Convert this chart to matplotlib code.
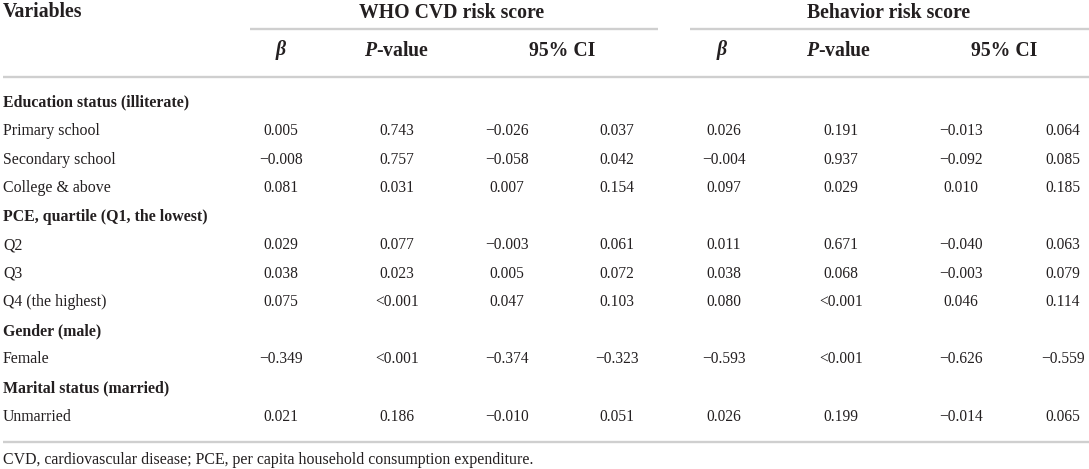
import matplotlib
matplotlib.use("Agg")
import matplotlib.pyplot as plt

plt.rcParams['mathtext.fontset'] = 'custom'
plt.rcParams['mathtext.it'] = 'Liberation Serif:italic:bold'
plt.rcParams['mathtext.rm'] = 'Liberation Serif:bold'
plt.rcParams['mathtext.bf'] = 'Liberation Serif:bold'

# ---------------- data ----------------
group_titles = ["WHO CVD risk score", "Behavior risk score"]
sub_headers = [r"$β$", r"$P$-value", "95% CI"]
variables = ["Education status (illiterate)", "Primary school", "Secondary school",
             "College & above", "PCE, quartile (Q1, the lowest)", "Q2", "Q3",
             "Q4 (the highest)", "Gender (male)", "Female", "Marital status (married)",
             "Unmarried"]
is_group = [True, False, False, False, True, False, False, False, True, False, True, False]

who_beta = [None, 0.005, -0.008, 0.081, None, 0.029, 0.038, 0.075, None, -0.349, None, 0.021]
who_p = [None, "0.743", "0.757", "0.031", None, "0.077", "0.023", "<0.001", None, "<0.001", None, "0.186"]
who_lo = [None, -0.026, -0.058, 0.007, None, -0.003, 0.005, 0.047, None, -0.374, None, -0.010]
who_hi = [None, 0.037, 0.042, 0.154, None, 0.061, 0.072, 0.103, None, -0.323, None, 0.051]

beh_beta = [None, 0.026, -0.004, 0.097, None, 0.011, 0.038, 0.080, None, -0.593, None, 0.026]
beh_p = [None, "0.191", "0.937", "0.029", None, "0.671", "0.068", "<0.001", None, "<0.001", None, "0.199"]
beh_lo = [None, -0.013, -0.092, 0.010, None, -0.040, -0.003, 0.046, None, -0.626, None, -0.014]
beh_hi = [None, 0.064, 0.085, 0.185, None, 0.063, 0.079, 0.114, None, -0.559, None, 0.065]

footnote = "CVD, cardiovascular disease; PCE, per capita household consumption expenditure."

# ---------------- layout ----------------
W, H = 1089, 469
fig = plt.figure(figsize=(W / 100, H / 100), dpi=100)
ax = fig.add_axes([0, 0, 1, 1])
ax.set_xlim(0, W)
ax.set_ylim(H, 0)
ax.axis("off")

FONT = "Liberation Serif"
TXT = "#231f20"
LINE = "#cfcfcf"
body_size = 11.4
head_size = 14.2

def fmt(v):
    if v is None:
        return ""
    if isinstance(v, str):
        return v
    return f"{v:.3f}".replace("-", "\u2212")

# header row 1
ax.text(3, 17, "Variables", fontsize=head_size, fontweight="bold", family=FONT,
        color=TXT, va="baseline", ha="left")
group_centers = [452, 889]
group_lines = [(250, 658), (690, 1089)]
for title, cx, (x0, x1) in zip(group_titles, group_centers, group_lines):
    ax.text(cx, 17.5, title, fontsize=head_size, fontweight="bold", family=FONT,
            color=TXT, va="baseline", ha="center")
    ax.plot([x0, x1], [29.5, 29.5], color=LINE, lw=1.7, solid_capstyle="butt")

# header row 2
sub_x = [[281, 397, 562], [722, 839, 1004]]
for xs in sub_x:
    for lab, x in zip(sub_headers, xs):
        ax.text(x, 55.5, lab, fontsize=head_size, fontweight="bold", family=FONT,
                color=TXT, va="baseline", ha="center")

ax.plot([3, W], [77, 77], color=LINE, lw=1.7, solid_capstyle="butt")

# body rows
col_x = [281, 397, 507, 617, 724, 841, 961, 1063]
cols = [who_beta, who_p, who_lo, who_hi, beh_beta, beh_p, beh_lo, beh_hi]
for i, name in enumerate(variables):
    yc = 101 + 28.55 * i
    yb = yc + 5.5
    ax.text(3, yb, name, fontsize=body_size, family=FONT, color=TXT,
            fontweight="bold" if is_group[i] else "normal", va="baseline", ha="left")
    for x, col in zip(col_x, cols):
        s = fmt(col[i])
        if s:
            ax.text(x, yb, s, fontsize=body_size - 0.2, family=FONT, color=TXT,
                    va="baseline", ha="center")

ax.plot([3, W], [442, 442], color=LINE, lw=1.7, solid_capstyle="butt")
ax.text(3, 464, footnote, fontsize=11.4, family=FONT, color=TXT, va="baseline", ha="left")

fig.savefig("out.png", dpi=100, facecolor="white")
